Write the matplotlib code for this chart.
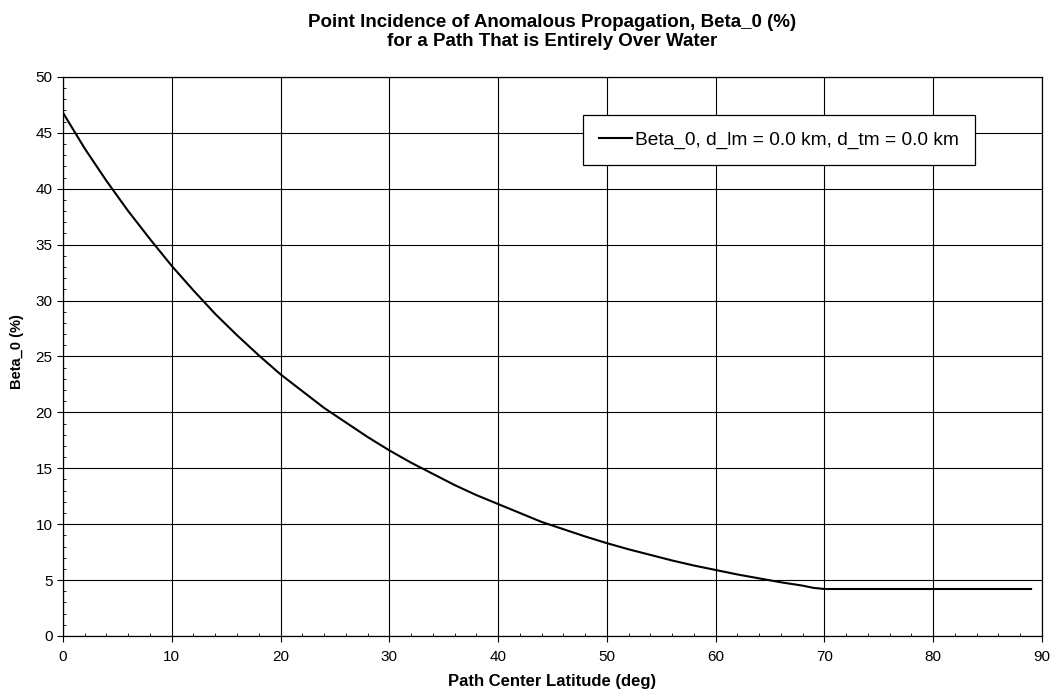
"""
Beta_0 vs path center latitude, path entirely over water
"""

import matplotlib
matplotlib.use('Agg')
import matplotlib.pyplot as plt
from matplotlib.ticker import MultipleLocator

matplotlib.rcParams['font.family'] = ['Liberation Sans', 'DejaVu Sans']

# values
latitude = [0, 2, 4, 6, 8, 10, 12, 14, 16, 18, 20, 22, 24, 26, 28, 30,
            32, 34, 36, 38, 40, 42, 44, 46, 48, 50, 52, 54, 56, 58, 60,
            62, 64, 66, 68, 69, 70, 75, 80, 85, 89]
beta_0 = [46.8, 43.6, 40.7, 38.0, 35.5, 33.1, 30.9, 28.8, 26.9, 25.1, 23.4,
          21.9, 20.4, 19.1, 17.8, 16.6, 15.5, 14.5, 13.5, 12.6, 11.8, 11.0,
          10.2, 9.55, 8.9, 8.3, 7.75, 7.25, 6.75, 6.3, 5.9, 5.5, 5.15, 4.8,
          4.5, 4.3, 4.2, 4.2, 4.2, 4.2, 4.2]

series_label = 'Beta_0, d_lm = 0.0 km, d_tm = 0.0 km'
title = ('Point Incidence of Anomalous Propagation, Beta_0 (%)\n'
         'for a Path That is Entirely Over Water')

fig = plt.figure(figsize=(10.53, 6.92), dpi=100)
ax = fig.add_axes([0.0598, 0.081, 0.9297, 0.8078])

ax.plot(latitude, beta_0, color='black', linewidth=1.5, label=series_label)

ax.set_xlim(0, 90)
ax.set_ylim(0, 50)
ax.xaxis.set_major_locator(MultipleLocator(10))
ax.yaxis.set_major_locator(MultipleLocator(5))
ax.yaxis.set_minor_locator(MultipleLocator(1))
ax.xaxis.set_minor_locator(MultipleLocator(2))
ax.tick_params(axis='both', which='major', labelsize=11, length=4,
               width=0.8, direction='out')
ax.tick_params(axis='x', which='major', pad=6)
ax.tick_params(axis='both', which='minor', length=2.5, width=0.6,
               direction='in')
ax.grid(which='major', color='black', linewidth=0.8)

for spine in ax.spines.values():
    spine.set_linewidth(0.9)

ax.set_xlabel('Path Center Latitude (deg)', fontsize=12, fontweight='bold',
              labelpad=7)
ax.set_ylabel('Beta_0 (%)', fontsize=10.5, fontweight='bold')
ax.yaxis.set_label_coords(-0.040, 0.508)
ax.set_title(title, fontsize=13.5, fontweight='bold', pad=22, linespacing=1.15)

leg = ax.legend(loc='upper left', bbox_to_anchor=(0.531, 0.932), fontsize=13.8,
                frameon=True, fancybox=False, handlelength=1.7,
                handletextpad=0.15, borderpad=0.85, borderaxespad=0)
leg.get_frame().set_edgecolor('black')
leg.get_frame().set_linewidth(0.9)
leg.get_frame().set_alpha(1)

fig.savefig('out.png', dpi=100)
plt.close(fig)
